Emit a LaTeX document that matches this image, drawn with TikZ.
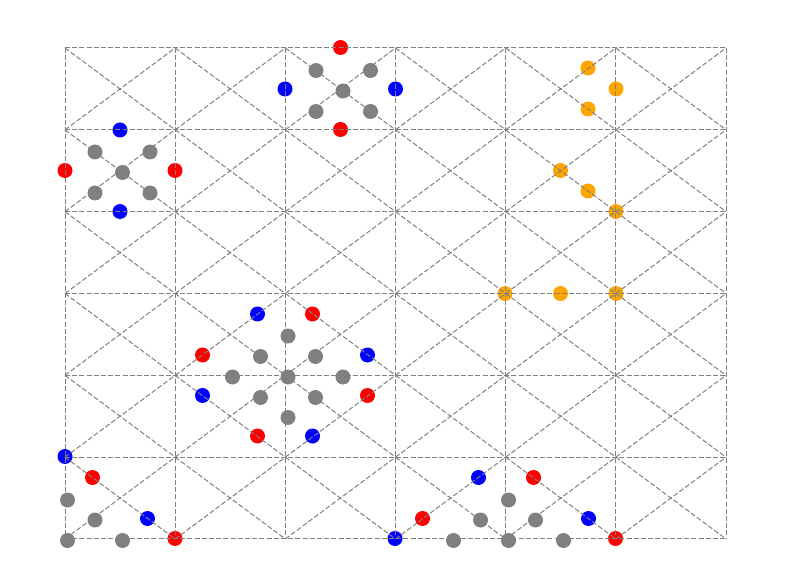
\documentclass[tikz,border=0pt]{standalone}
\begin{document}
\begin{tikzpicture}[x=1pt,y=-1pt,
  gridline/.style={draw=gray, line width=1pt, dash pattern=on 5pt off 2.2pt},
  dotg/.style={circle, fill=gray, inner sep=0pt, minimum size=15pt},
  dotr/.style={circle, fill=red, inner sep=0pt, minimum size=15pt},
  dotb/.style={circle, fill=blue, inner sep=0pt, minimum size=15pt},
  doto/.style={circle, fill=orange, inner sep=0pt, minimum size=15pt}]
\useasboundingbox (0,0) rectangle (790,588);
\definecolor{orange}{RGB}{255,165,0}
% dots (drawn under grid)
% top-left cluster
\node[dotb] (a1) at (120,130) {};
\node[dotg] (a2) at (95,152) {};
\node[dotg] (a3) at (150,152) {};
\node[dotr] (a4) at (65,170.5) {};
\node[dotg] (a5) at (122.5,172.5) {};
\node[dotr] (a6) at (175,170.5) {};
\node[dotg] (a7) at (95,193) {};
\node[dotg] (a8) at (150,193) {};
\node[dotb] (a9) at (120,211.5) {};
% top-middle cluster
\node[dotr] (b1) at (340.5,47.5) {};
\node[dotg] (b2) at (316,70.5) {};
\node[dotg] (b3) at (370.5,70.5) {};
\node[dotb] (b4) at (285,89) {};
\node[dotg] (b5) at (343,91) {};
\node[dotb] (b6) at (395.5,89) {};
\node[dotg] (b7) at (316,111.5) {};
\node[dotg] (b8) at (370.5,111.5) {};
\node[dotr] (b9) at (340.5,129.5) {};
% orange
\node[doto] (o1) at (588,68) {};
\node[doto] (o2) at (616,89) {};
\node[doto] (o3) at (588,109) {};
\node[doto] (o4) at (560.5,170.5) {};
\node[doto] (o5) at (588,191) {};
\node[doto] (o6) at (616,211.5) {};
\node[doto] (o7) at (505,293.5) {};
\node[doto] (o8) at (560.5,293.5) {};
\node[doto] (o9) at (616,293.5) {};
% middle cluster
\node[dotb] (c1) at (257.5,314) {};
\node[dotr] (c2) at (312.5,314) {};
\node[dotg] (c3) at (288,336) {};
\node[dotr] (c4) at (202.5,355) {};
\node[dotg] (c5) at (260.5,356.5) {};
\node[dotg] (c6) at (315.5,356.5) {};
\node[dotb] (c7) at (367.5,355) {};
\node[dotg] (c8) at (232.5,377) {};
\node[dotg] (c9) at (288,377) {};
\node[dotg] (c10) at (343,377) {};
\node[dotb] (c11) at (202.5,395.5) {};
\node[dotg] (c12) at (260.5,397.5) {};
\node[dotg] (c13) at (315.5,397.5) {};
\node[dotr] (c14) at (367.5,395.5) {};
\node[dotg] (c15) at (288,417.5) {};
\node[dotr] (c16) at (257.5,436) {};
\node[dotb] (c17) at (312.5,436) {};
% bottom-left
\node[dotb] (d1) at (65,456.5) {};
\node[dotr] (d2) at (92.5,477.5) {};
\node[dotg] (d3) at (67.5,500) {};
\node[dotg] (d4) at (95,520) {};
\node[dotb] (d5) at (147.5,518.5) {};
\node[dotg] (d6) at (67.5,540.5) {};
\node[dotg] (d7) at (122.5,540.5) {};
\node[dotr] (d8) at (175,538.5) {};
% bottom-right
\node[dotb] (e1) at (395,538.5) {};
\node[dotr] (e2) at (422.5,518.5) {};
\node[dotb] (e3) at (478.5,477.5) {};
\node[dotr] (e4) at (533.5,477.5) {};
\node[dotg] (e5) at (508.5,500) {};
\node[dotg] (e6) at (480.5,520) {};
\node[dotg] (e7) at (535.5,520) {};
\node[dotb] (e8) at (588.5,518.5) {};
\node[dotr] (e9) at (615.5,538.5) {};
\node[dotg] (e10) at (453.5,540.5) {};
\node[dotg] (e11) at (508.5,540.5) {};
\node[dotg] (e12) at (563.5,540.5) {};
% grid
\foreach \i in {0,...,5}{
  \foreach \j in {0,...,5}{
    \pgfmathsetmacro{\xa}{65+110.17*\i}
    \pgfmathsetmacro{\xb}{65+110.17*(\i+1)}
    \pgfmathsetmacro{\ya}{48+81.83*\j}
    \pgfmathsetmacro{\yb}{48+81.83*(\j+1)}
    \draw[gridline] (\xa,\ya) -- (\xb,\yb);
    \draw[gridline] (\xa,\yb) -- (\xb,\ya);
  }
}
\foreach \i in {0,...,6}{
  \pgfmathsetmacro{\xx}{65+110.17*\i}
  \draw[gridline] (\xx,48) -- (\xx,539);
  \pgfmathsetmacro{\yy}{48+81.83*\i}
  \draw[gridline] (65,\yy) -- (726,\yy);
}
\end{tikzpicture}
\end{document}
